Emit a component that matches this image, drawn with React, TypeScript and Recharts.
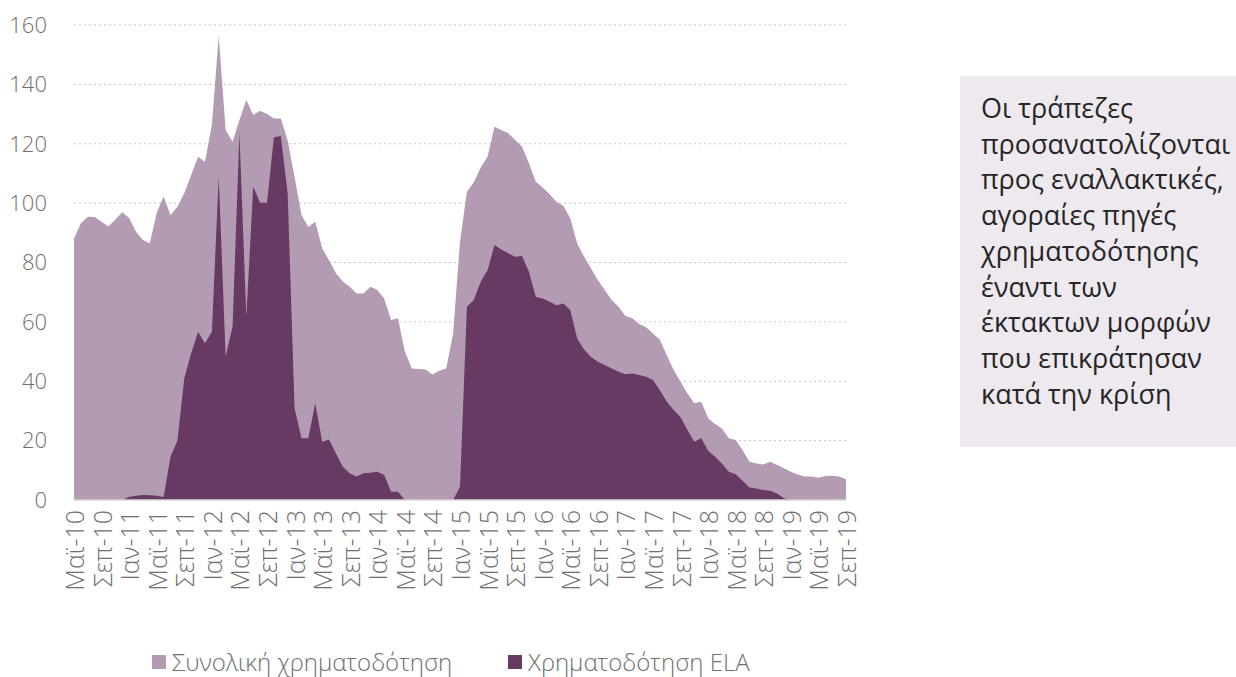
import React from 'react';
import { AreaChart, Area, XAxis, YAxis, CartesianGrid, Legend } from 'recharts';

const monthNames = ['Ιαν', 'Φεβ', 'Μαρ', 'Απρ', 'Μαϊ', 'Ιουν', 'Ιουλ', 'Αυγ', 'Σεπ', 'Οκτ', 'Νοε', 'Δεκ'];
const categories: string[] = [];
for (let k = 0; k < 113; k++) {
  const m = (4 + k) % 12;
  const yr = 10 + Math.floor((4 + k) / 12);
  categories.push(`${monthNames[m]}-${yr}`);
}

const totalFunding = [
  88.1, 93.2, 95.4, 95.3, 93.7, 92.1, 94.5, 96.9, 95.0, 90.4,
  87.6, 86.5, 96.8, 102.2, 96.0, 98.8, 103.3, 109.5, 115.6, 113.9,
  126.3, 156.3, 124.6, 120.7, 128.0, 134.7, 129.7, 131.1, 130.0, 128.5,
  128.5, 121.0, 108.9, 96.0, 92.0, 93.7, 84.8, 80.8, 76.4, 73.6,
  71.8, 69.6, 69.6, 71.8, 70.7, 67.9, 60.6, 61.2, 50.0, 44.3,
  44.1, 44.0, 42.3, 43.5, 44.3, 56.1, 87.0, 103.8, 107.0, 112.0,
  115.6, 125.7, 124.6, 123.5, 121.3, 119.0, 113.4, 107.2, 105.3, 103.0,
  100.5, 99.0, 94.9, 86.4, 82.0, 78.0, 74.1, 70.7, 67.4, 65.1,
  62.0, 61.2, 59.3, 58.2, 56.1, 54.0, 48.8, 43.8, 39.8, 35.9,
  32.6, 33.1, 27.5, 25.6, 24.1, 20.8, 20.2, 16.8, 12.9, 12.3,
  12.0, 12.9, 11.8, 10.7, 9.5, 8.6, 7.9, 7.9, 7.5, 8.1,
  8.2, 7.9, 7.0,
];

const elaFunding = [
  0, 0, 0, 0, 0, 0, 0, 0, 1.1, 1.4,
  1.7, 1.6, 1.4, 1.0, 14.6, 20.0, 41.0, 49.4, 56.7, 52.8,
  56.7, 108.9, 48.3, 58.4, 123.5, 61.7, 105.5, 100.1, 100.1, 122.2,
  122.6, 103.3, 30.9, 20.8, 20.8, 32.6, 19.6, 20.4, 15.7, 11.2,
  9.0, 7.9, 9.0, 9.2, 9.5, 8.4, 2.8, 2.8, 0, 0,
  0, 0, 0, 0, 0, 0, 4.5, 65.1, 67.4, 73.5,
  77.4, 85.9, 84.4, 83.1, 81.9, 82.2, 76.9, 68.4, 67.9, 66.8,
  65.6, 66.2, 64.0, 54.4, 50.7, 48.2, 46.6, 45.5, 44.3, 43.2,
  42.4, 42.6, 42.1, 41.5, 40.4, 37.0, 33.1, 30.3, 27.9, 23.6,
  19.6, 20.8, 16.6, 14.6, 12.3, 9.5, 8.7, 6.5, 4.2, 3.9,
  3.4, 3.1, 2.2, 0.6, 0, 0, 0, 0, 0, 0,
  0, 0, 0,
];

const yTicks = [0, 20, 40, 60, 80, 100, 120, 140, 160];

const seriesNames = ['Συνολική χρηματοδότηση', 'Χρηματοδότηση ELA'];
const noteLines = [
  'Οι τράπεζες',
  'προσανατολίζονται',
  'προς εναλλακτικές,',
  'αγοραίες πηγές',
  'χρηματοδότησης',
  'έναντι των',
  'έκτακτων μορφών',
  'που επικράτησαν',
  'κατά την κρίση',
];

const data = categories.map((c, i) => ({ month: c, total: totalFunding[i], ela: elaFunding[i] }));

const FONT = '"Open Sans", "Noto Sans", sans-serif';
const LIGHT = '#B39CB3';
const DARK = '#673A63';
const AXIS_TEXT = '#707070';

const XTick = (props: any) => {
  const { x, y, payload } = props;
  return (
    <g transform={`translate(${x},${y})`}>
      <text
        transform="rotate(-90)"
        x={-2}
        y={0}
        textAnchor="end"
        dominantBaseline="central"
        fontSize={25}
        fontWeight={300}
        fontFamily={FONT}
        fill={AXIS_TEXT}
      >
        {payload.value}
      </text>
    </g>
  );
};

const LegendContent = (props: any) => {
  const { payload } = props;
  return (
    <div style={{ display: 'flex', fontFamily: FONT, fontWeight: 300, fontSize: 24, lineHeight: '30px', color: AXIS_TEXT }}>
      {(payload || []).map((entry: any, idx: number) => (
        <div key={idx} style={{ display: 'flex', alignItems: 'center', width: idx === 0 ? 356 : 300 }}>
          <span style={{ display: 'inline-block', width: 14, height: 14, background: entry.color, marginRight: 6 }} />
          <span>{entry.value}</span>
        </div>
      ))}
    </div>
  );
};

export default function App() {
  return (
    <div style={{ position: 'absolute', left: 0, top: 0, width: 1236, height: 677, background: '#fff' }}>
      <AreaChart width={1236} height={677} data={data} margin={{ top: 25, right: 330, bottom: 67, left: 0 }}>
        <CartesianGrid yAxisId="left" vertical={false} stroke="#C4C4C4" strokeDasharray="2 3" />
        <XAxis
          dataKey="month"
          interval={3}
          height={110}
          tickLine={false}
          axisLine={{ stroke: '#D9D9D9', strokeWidth: 1.5 }}
          tick={<XTick />}
        />
        <YAxis
          yAxisId="left"
          orientation="left"
          width={74}
          domain={[0, 160]}
          ticks={yTicks}
          axisLine={false}
          tickLine={false}
          tickMargin={21}
          tick={{ fontSize: 22, fill: AXIS_TEXT, fontFamily: FONT, fontWeight: 300 }}
        />
        <YAxis
          yAxisId="right"
          orientation="right"
          width={60}
          domain={[0, 160]}
          ticks={yTicks}
          axisLine={false}
          tickLine={false}
          tickMargin={16}
          tick={{ fontSize: 22, fill: AXIS_TEXT, fontFamily: FONT, fontWeight: 300, textAnchor: 'start' }}
        />
        <Area
          yAxisId="left"
          type="linear"
          dataKey="total"
          name={seriesNames[0]}
          stroke="none"
          fill={LIGHT}
          fillOpacity={1}
          isAnimationActive={false}
        />
        <Area
          yAxisId="left"
          type="linear"
          dataKey="ela"
          name={seriesNames[1]}
          stroke="none"
          fill={DARK}
          fillOpacity={1}
          isAnimationActive={false}
        />
        <Legend
          verticalAlign="middle"
          layout="horizontal"
          content={<LegendContent />}
          wrapperStyle={{ left: 152, top: 647, width: 700 }}
        />
      </AreaChart>
      <div
        style={{
          position: 'absolute',
          left: 960,
          top: 76,
          width: 276,
          height: 371,
          background: '#EEE9EF',
          boxSizing: 'border-box',
          padding: '14px 0 0 21px',
          fontFamily: FONT,
          fontSize: 27,
          lineHeight: '35.7px',
          color: '#262626',
        }}
      >
        {noteLines.map((l, i) => (
          <div key={i} style={{ whiteSpace: 'nowrap' }}>{l}</div>
        ))}
      </div>
    </div>
  );
}
